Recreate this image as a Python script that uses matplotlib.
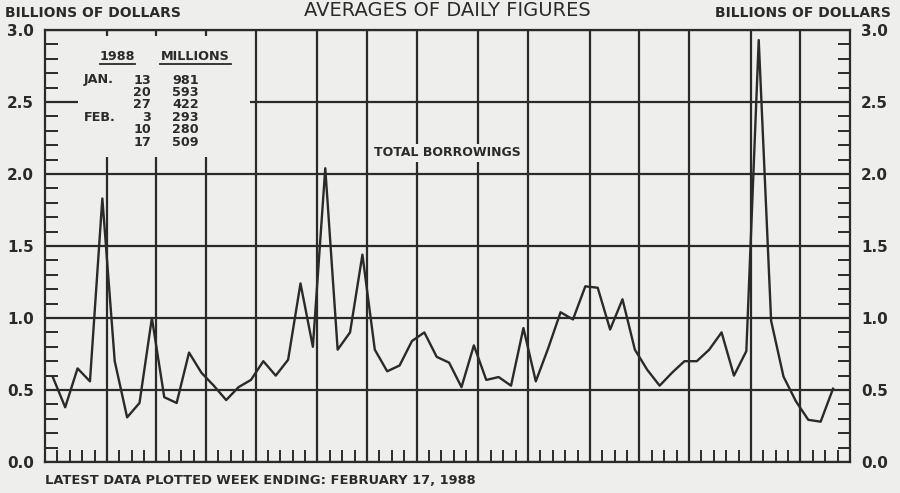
import numpy as np
import matplotlib
matplotlib.use('Agg')
import matplotlib.pyplot as plt
from matplotlib.ticker import FixedLocator, MultipleLocator

# weeks per month, Dec 1986 .. Feb 1988
month_weeks = [5, 4, 4, 4, 5, 4, 4, 5, 4, 5, 4, 4, 5, 4, 4]

# total borrowings, billions of dollars, weekly averages of daily figures
borrowings = [0.59, 0.38, 0.65, 0.56, 1.83, 0.70, 0.31, 0.41, 1.00, 0.45,
              0.41, 0.76, 0.62, 0.53, 0.43, 0.52, 0.57, 0.70, 0.60, 0.71,
              1.24, 0.80, 2.04, 0.78, 0.90, 1.44, 0.78, 0.63, 0.67, 0.84,
              0.90, 0.73, 0.69, 0.52, 0.81, 0.57, 0.59, 0.53, 0.93, 0.56,
              0.79, 1.04, 0.99, 1.22, 1.21, 0.92, 1.13, 0.78, 0.64, 0.53,
              0.62, 0.70, 0.70, 0.78, 0.90, 0.60, 0.77, 2.93, 0.981, 0.593,
              0.422, 0.293, 0.280, 0.509]

# inset table
table_months = ['JAN.', '', '', 'FEB.', '', '']
table_days = ['13', '20', '27', '3', '10', '17']
table_millions = ['981', '593', '422', '293', '280', '509']

bg = '#eeeeec'
ink = '#2a2a2a'

fig = plt.figure(figsize=(9, 4.93), dpi=100, facecolor=bg)
ax = fig.add_axes([45/900, 1-462/493, 805/900, 432/493], facecolor=bg)

n_weeks = sum(month_weeks)
x = np.arange(len(borrowings)) + 0.63
ax.plot(x, borrowings, color=ink, lw=1.7, zorder=5)

ax.set_xlim(0, n_weeks)
ax.set_ylim(0, 3.0)

# month grid lines, weekly ticks
bounds = np.cumsum(month_weeks)[:-1]
ax.xaxis.set_major_locator(FixedLocator(bounds))
weeks = [w for w in range(1, n_weeks) if w not in bounds]
ax.xaxis.set_minor_locator(FixedLocator(weeks))
ax.yaxis.set_major_locator(MultipleLocator(0.5))
ax.yaxis.set_minor_locator(MultipleLocator(0.1))
ax.grid(True, which='major', color=ink, lw=1.6, zorder=1)

ax.tick_params(axis='x', which='major', length=0, labelbottom=False)
ax.tick_params(axis='x', which='minor', direction='in', length=9, width=1.4,
               color=ink, bottom=True, top=False)
ax.tick_params(axis='y', which='major', length=0, labelleft=True, labelright=True,
               pad=8, labelsize=11, labelcolor=ink)
ax.tick_params(axis='y', which='minor', direction='in', length=9, width=1.4,
               color=ink, left=True, right=True)
ax.set_yticks([0, 0.5, 1, 1.5, 2, 2.5, 3])
ax.set_yticklabels(['0.0', '0.5', '1.0', '1.5', '2.0', '2.5', '3.0'],
                   fontweight='bold')
for s in ax.spines.values():
    s.set_color(ink)
    s.set_linewidth(1.6)

# blank area behind the table
ax.add_patch(plt.Rectangle((33/805, (462-157)/432), (250-78)/805, (157-36)/432,
                           transform=ax.transAxes, facecolor=bg, edgecolor='none',
                           zorder=2))

ax.text((447-45)/805, (462-153)/432, 'TOTAL BORROWINGS', transform=ax.transAxes,
        ha='center', va='center', fontsize=9, fontweight='bold', color=ink,
        zorder=6, bbox=dict(facecolor=bg, edgecolor='none', pad=1.5))

def px(xp, yp):
    return xp/900, 1-yp/493

fs = 9.2
fig.text(*px(117, 57), '1988', ha='center', va='center', fontsize=fs,
         fontweight='bold', color=ink)
fig.text(*px(195, 57), 'MILLIONS', ha='center', va='center', fontsize=fs,
         fontweight='bold', color=ink)
for x0, x1 in [(100, 135), (160, 231)]:
    fig.add_artist(plt.Line2D([x0/900, x1/900], [1-64/493, 1-64/493],
                              color=ink, lw=1.3))
for k in range(len(table_days)):
    yp = 80 + k*12.4
    fig.text(*px(84, yp), table_months[k], ha='left', va='center', fontsize=fs,
             fontweight='bold', color=ink)
    fig.text(*px(151, yp), table_days[k], ha='right', va='center', fontsize=fs,
             fontweight='bold', color=ink)
    fig.text(*px(199, yp), table_millions[k], ha='right', va='center', fontsize=fs,
             fontweight='bold', color=ink)

fig.text(*px(5, 13), 'BILLIONS OF DOLLARS', ha='left', va='center', fontsize=10,
         fontweight='bold', color=ink)
fig.text(*px(891, 13), 'BILLIONS OF DOLLARS', ha='right', va='center', fontsize=10,
         fontweight='bold', color=ink)
fig.text(*px(447, 11), 'AVERAGES OF DAILY FIGURES', ha='center', va='center',
         fontsize=14, color=ink)
fig.text(*px(45, 481), 'LATEST DATA PLOTTED WEEK ENDING: FEBRUARY 17, 1988',
         ha='left', va='center', fontsize=9.4, fontweight='bold', color=ink)

fig.savefig('out.png', dpi=100, facecolor=bg)
